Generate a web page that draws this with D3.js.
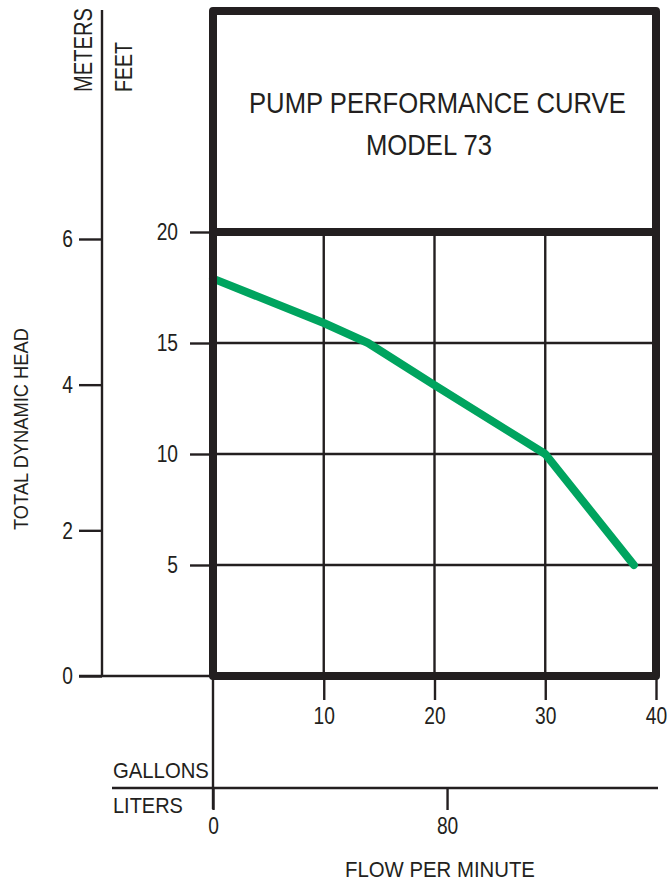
<!DOCTYPE html>
<html>
<head>
<meta charset="utf-8">
<script src="https://cdn.jsdelivr.net/npm/d3@7"></script>
<style>
  html, body { margin: 0; padding: 0; background: #fff; }
  svg { display: block; }
  text { font-family: "Liberation Sans", Arial, sans-serif; fill: #231f20; }
</style>
</head>
<body>
<svg id="chart" width="667" height="881"></svg>
<script>
// ---- data ----
const flowGpm = [0, 10, 14, 20, 30, 38];
const headFt  = [17.9, 15.9, 15, 13.1, 10, 5];
const feetTicks = [5, 10, 15, 20];
const meterTicks = [0, 2, 4, 6];
const gallonTicks = [10, 20, 30, 40];
const literTicks = [0, 80];
const titleLines = ["PUMP PERFORMANCE CURVE", "MODEL 73"];

const INK = "#231f20";
const GREEN = "#00a45f";
const FONT = '"Liberation Sans", Arial, sans-serif';
const svg = d3.select("#chart");

// ---- scales ----
const x  = d3.scaleLinear().domain([0, 40]).range([213, 656]);
const xL = d3.scaleLinear().domain([0, 40 * 3.78541]).range([213, 656]);
const yFt = d3.scaleLinear().domain([0, 20]).range([676, 232]);
const yM  = d3.scaleLinear().domain([0, 20 * 0.3048]).range([676, 232]);

// condensed text: rendered at natural size, then squeezed horizontally by a transform
function label(txt, px, py, size, len, rotate) {
  const t = svg.append("text")
    .attr("x", 0).attr("y", 0)
    .attr("font-size", size)
    .text(txt);
  const nat = t.node().getComputedTextLength();
  const sx = len / nat;
  t.attr("transform", `translate(${px},${py})${rotate ? " rotate(-90)" : ""} scale(${sx},1)`);
  return t;
}

// ---- grid ----
svg.append("g").selectAll("line").data(gallonTicks.filter(d => d < 40)).join("line")
  .attr("x1", d => x(d)).attr("x2", d => x(d))
  .attr("y1", yFt(20)).attr("y2", yFt(0))
  .attr("stroke", INK).attr("stroke-width", 2.4);
svg.append("g").selectAll("line").data(feetTicks.filter(d => d < 20)).join("line")
  .attr("x1", x(0)).attr("x2", x(40))
  .attr("y1", d => yFt(d)).attr("y2", d => yFt(d))
  .attr("stroke", INK).attr("stroke-width", 2.4);

// ---- meters axis ----
svg.append("line").attr("x1", 102).attr("x2", 102).attr("y1", 10).attr("y2", yM(0))
  .attr("stroke", INK).attr("stroke-width", 2.4);
svg.append("line").attr("x1", 79).attr("x2", x(0)).attr("y1", yM(0)).attr("y2", yM(0))
  .attr("stroke", INK).attr("stroke-width", 2.4);
const gM = svg.append("g").attr("transform", "translate(102,0)")
  .call(d3.axisLeft(yM).tickValues(meterTicks).tickSize(23).tickPadding(6).tickFormat(d3.format("d")));
gM.select(".domain").remove();

// ---- feet axis ----
const gF = svg.append("g").attr("transform", `translate(${x(0)},0)`)
  .call(d3.axisLeft(yFt).tickValues(feetTicks).tickSize(23).tickPadding(12).tickFormat(d3.format("d")));
gF.select(".domain").remove();

// ---- gallons axis ----
const gG = svg.append("g").attr("transform", `translate(0,${yFt(0)})`)
  .call(d3.axisBottom(x).tickValues(gallonTicks).tickSize(24).tickPadding(7).tickFormat(d3.format("d")));
gG.select(".domain").remove();

// ---- liters axis ----
svg.append("line").attr("x1", x(0)).attr("x2", x(0)).attr("y1", yFt(0)).attr("y2", 809)
  .attr("stroke", INK).attr("stroke-width", 2.4);
svg.append("line").attr("x1", 112).attr("x2", 658).attr("y1", 788).attr("y2", 788)
  .attr("stroke", INK).attr("stroke-width", 2.4);
const gL = svg.append("g").attr("transform", "translate(0,788)")
  .call(d3.axisBottom(xL).tickValues(literTicks).tickSize(22).tickPadding(7).tickFormat(d3.format("d")));
gL.select(".domain").remove();

[gM, gF, gG, gL].forEach(g => {
  g.selectAll(".tick line").attr("stroke", INK).attr("stroke-width", 2.4);
  g.selectAll(".tick text").each(function () {
    const t = d3.select(this)
      .attr("font-size", 24).attr("fill", INK).attr("font-family", FONT);
    const tx = +t.attr("x") || 0;
    const ty = +t.attr("y") || 0;
    t.attr("x", 0).attr("y", 0).attr("transform", `translate(${tx},${ty}) scale(0.8,1)`);
  });
});

// ---- curve ----
const pts = flowGpm.map((f, i) => [f, headFt[i]]);
svg.append("path")
  .datum(pts)
  .attr("d", d3.line().x(d => x(d[0])).y(d => yFt(d[1])))
  .attr("fill", "none").attr("stroke", GREEN).attr("stroke-width", 8)
  .attr("stroke-linecap", "round").attr("stroke-linejoin", "round");

// ---- heavy frame ----
svg.append("rect")
  .attr("x", x(0)).attr("y", 11)
  .attr("width", x(40) - x(0)).attr("height", yFt(0) - 11)
  .attr("fill", "none").attr("stroke", INK).attr("stroke-width", 8)
  .attr("stroke-linejoin", "round");
svg.append("line").attr("x1", x(0)).attr("x2", x(40))
  .attr("y1", yFt(20)).attr("y2", yFt(20))
  .attr("stroke", INK).attr("stroke-width", 8);

// ---- texts ----
label(titleLines[0], 249, 113, 30, 377);
label(titleLines[1], 366, 155, 30, 126);
label("FLOW PER MINUTE", 345, 877, 22, 190);
label("TOTAL DYNAMIC HEAD", 28, 530, 21, 202, true);
label("METERS", 92, 92, 25, 84, true);
label("FEET", 132, 92, 24, 50, true);
label("GALLONS", 113, 778, 22, 96);
label("LITERS", 113, 813, 22, 70);
</script>
</body>
</html>
